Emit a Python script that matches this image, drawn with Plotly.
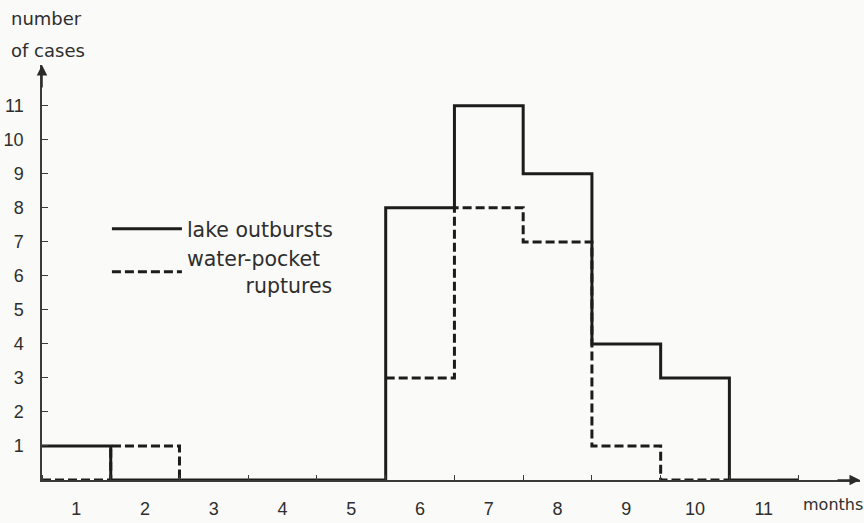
import plotly.graph_objects as go

# ---- data ----
months = [1, 2, 3, 4, 5, 6, 7, 8, 9, 10, 11]
month_labels = ["1", "2", "3", "4", "5", "6", "7", "8", "9", "10", "11"]
lake_outbursts = [1, 0, 0, 0, 0, 8, 11, 9, 4, 3, 0]
water_pocket = [0, 1, 0, 0, 0, 3, 8, 7, 1, 0, 0]
# months over which the water-pocket curve is drawn (two separate runs)
water_runs = [[1, 2], [6, 7, 8, 9, 10]]
y_ticks = [1, 2, 3, 4, 5, 6, 7, 8, 9, 10, 11]

INK = "#1c1c1c"
TXT = "#2e2e2e"
FONT = "DejaVu Sans"
TICKFONT = "Liberation Sans"


def step_xy(month_list, values):
    """Build hv-step coordinates: each month spans [m-0.5, m+0.5]."""
    xs, ys = [], []
    for m in month_list:
        xs.append(m - 0.5)
        ys.append(values[m - 1])
    last = month_list[-1]
    xs.append(last + 0.5)
    ys.append(0 if last < len(values) and values[last] == 0 else values[last - 1])
    return xs, ys


fig = go.Figure()

lx, ly = step_xy(months, lake_outbursts)
fig.add_trace(go.Scatter(
    x=lx, y=ly, mode="lines", line=dict(color=INK, width=3, shape="hv"),
    name="lake outbursts", cliponaxis=False,
))

wx, wy = [], []
for run in water_runs:
    xs, ys = step_xy(run, water_pocket)
    if wx:
        wx.append(None)
        wy.append(None)
    wx += xs
    wy += ys
fig.add_trace(go.Scatter(
    x=wx, y=wy, mode="lines",
    line=dict(color=INK, width=3, shape="hv", dash="9px,4px"),
    name="water-pocket<br>\u00a0\u00a0\u00a0\u00a0\u00a0\u00a0\u00a0\u00a0\u00a0ruptures",
    connectgaps=False, cliponaxis=False,
))

L, R, T, B = 41, 4, 65, 37
W, H = 864, 523
x_max = 12.4
y_max = 12.2
pw = W - L - R
ph = H - T - B

fig.update_layout(
    width=W, height=H,
    margin=dict(l=L, r=R, t=T, b=B),
    paper_bgcolor="#fafaf8", plot_bgcolor="#fafaf8",
    font=dict(family=FONT, size=18, color=TXT),
    showlegend=True,
    legend=dict(
        x=(106 - L) / pw, y=(486 - 211) / ph,
        xanchor="left", yanchor="top",
        bgcolor="rgba(0,0,0,0)", itemwidth=70,
        font=dict(family=FONT, size=20.5, color=TXT),
        tracegroupgap=1,
    ),
    xaxis=dict(
        range=[0.5, x_max], showgrid=False, zeroline=False,
        showline=True, linecolor="#3a3a3a", linewidth=1.5,
        tickmode="array", tickvals=months, ticktext=month_labels,
        ticks="", ticklabelstandoff=12,
        tickfont=dict(family=TICKFONT, size=18, color=TXT),
        minor=dict(ticks="inside", tick0=0.5, dtick=1, ticklen=5,
                   tickcolor="#3a3a3a", tickwidth=1.2, showgrid=False),
        fixedrange=True,
    ),
    yaxis=dict(
        range=[0, y_max], showgrid=False, zeroline=False,
        showline=True, linecolor="#3a3a3a", linewidth=1.5,
        tickmode="array", tickvals=y_ticks,
        ticks="inside", ticklen=6, tickcolor="#3a3a3a", tickwidth=1.2,
        ticklabelstandoff=13,
        tickfont=dict(family=TICKFONT, size=18, color=TXT),
        fixedrange=True,
    ),
)

# axis arrows
fig.add_annotation(x=0.5, y=y_max, xref="x", yref="y", ax=0, ay=24,
                   text="", showarrow=True, arrowhead=2, arrowsize=1.4,
                   arrowwidth=1.5, arrowcolor="#2a2a2a")
fig.add_annotation(x=x_max, y=0, xref="x", yref="y", ax=-24, ay=0,
                   text="", showarrow=True, arrowhead=2, arrowsize=1.4,
                   arrowwidth=1.5, arrowcolor="#2a2a2a")

# axis titles
fig.add_annotation(x=(8 - L) / pw, y=(H - B - 18) / ph, xref="paper", yref="paper",
                   text="number", showarrow=False, xanchor="left", yanchor="middle",
                   font=dict(family=FONT, size=18, color=TXT))
fig.add_annotation(x=(8 - L) / pw, y=(H - B - 50) / ph, xref="paper", yref="paper",
                   text="of cases", showarrow=False, xanchor="left", yanchor="middle",
                   font=dict(family=FONT, size=18, color=TXT))
fig.add_annotation(x=(801 - L) / pw, y=(H - B - 511) / ph, xref="paper", yref="paper",
                   text="months", showarrow=False, xanchor="left", yanchor="middle",
                   font=dict(family=FONT, size=16, color=TXT))

fig.write_html(
    "out.html",
    config={"displayModeBar": False},
    post_script="document.body.style.margin='0';document.body.style.overflow='hidden';",
)
